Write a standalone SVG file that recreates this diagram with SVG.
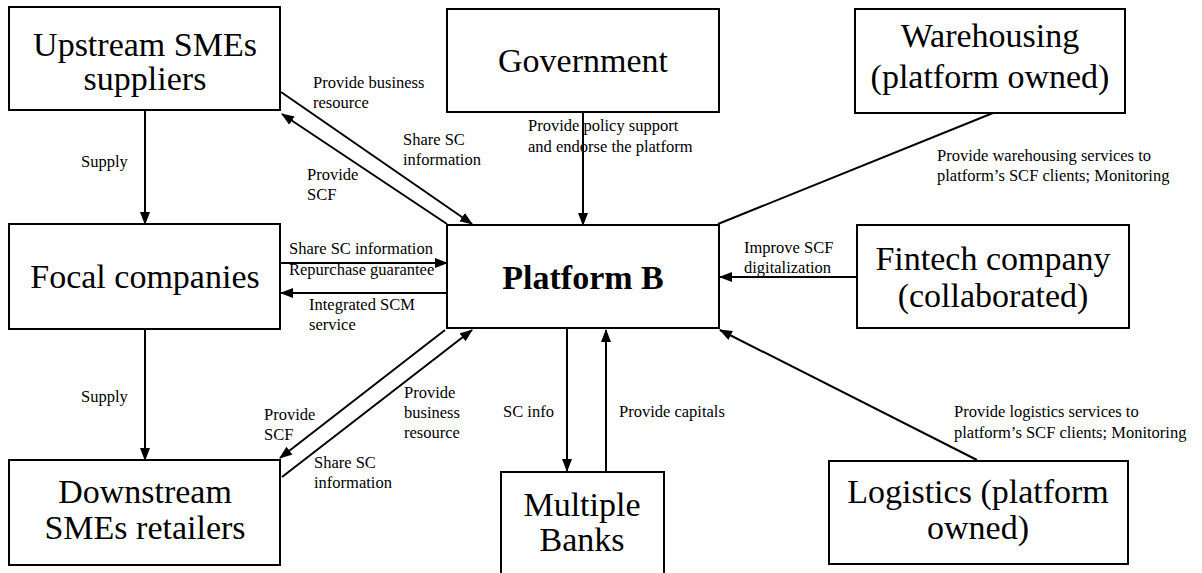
<svg xmlns="http://www.w3.org/2000/svg" width="1202" height="573" viewBox="0 0 1202 573">
<style>
.box{fill:#fff;stroke:#000;stroke-width:2}
.nt{font-family:"Liberation Serif","Times New Roman",serif;font-size:34px;fill:#000;text-anchor:middle}
.bold{font-weight:bold}
.lb{font-family:"Liberation Serif","Times New Roman",serif;font-size:16.5px;fill:#000}
.cn{stroke:#000;stroke-width:2;fill:none}
.ar{marker-end:url(#ah)}
</style>
<defs>
<marker id="ah" markerUnits="userSpaceOnUse" markerWidth="14" markerHeight="12" refX="12" refY="5" orient="auto">
<path d="M0,0 L13,5 L0,10 z" fill="#000"/>
</marker>
</defs>
<rect width="1202" height="573" fill="#fff"/>
<g id="connectors">
<line class="cn ar" x1="145" y1="110" x2="145" y2="224"/>
<line class="cn ar" x1="145" y1="329" x2="145" y2="460"/>
<line class="cn ar" x1="281" y1="92" x2="472" y2="224"/>
<line class="cn ar" x1="447" y1="224" x2="282" y2="114"/>
<line class="cn ar" x1="281" y1="263" x2="447" y2="263"/>
<line class="cn ar" x1="447" y1="293" x2="281" y2="293"/>
<line class="cn ar" x1="445" y1="330" x2="280" y2="458"/>
<line class="cn ar" x1="282" y1="477" x2="472" y2="330"/>
<line class="cn ar" x1="583" y1="112" x2="583" y2="225"/>
<line class="cn" x1="718" y1="224" x2="993" y2="113"/>
<line class="cn ar" x1="857" y1="277" x2="720" y2="277"/>
<line class="cn ar" x1="567" y1="329" x2="567" y2="471"/>
<line class="cn ar" x1="606" y1="471" x2="606" y2="330"/>
<line class="cn ar" x1="977" y1="460" x2="720" y2="330"/>
<text class="lb" x="81" y="167">Supply</text>
<text class="lb" x="81" y="402">Supply</text>
<text class="lb" x="313" y="88">Provide business</text>
<text class="lb" x="313" y="108">resource</text>
<text class="lb" x="403" y="145">Share SC</text>
<text class="lb" x="403" y="165">information</text>
<text class="lb" x="307" y="180">Provide</text>
<text class="lb" x="307" y="200">SCF</text>
<text class="lb" x="289" y="254">Share SC information</text>
<text class="lb" x="289" y="275">Repurchase guarantee</text>
<text class="lb" x="309" y="310">Integrated  SCM</text>
<text class="lb" x="309" y="330">service</text>
<text class="lb" x="264" y="420">Provide</text>
<text class="lb" x="264" y="440">SCF</text>
<text class="lb" x="404" y="398">Provide</text>
<text class="lb" x="404" y="418">business</text>
<text class="lb" x="404" y="438">resource</text>
<text class="lb" x="314" y="468">Share SC</text>
<text class="lb" x="314" y="488">information</text>
<text class="lb" x="528" y="131">Provide policy support</text>
<text class="lb" x="528" y="152">and endorse the platform</text>
<text class="lb" x="937" y="161">Provide warehousing  services to</text>
<text class="lb" x="937" y="181">platform’s SCF clients;  Monitoring</text>
<text class="lb" x="744" y="253">Improve SCF</text>
<text class="lb" x="744" y="273">digitalization</text>
<text class="lb" x="503" y="417">SC info</text>
<text class="lb" x="619" y="417">Provide capitals</text>
<text class="lb" x="954" y="417">Provide logistics  services to</text>
<text class="lb" x="954" y="438">platform’s SCF clients;  Monitoring</text>
</g>
<g id="upstream">
<rect class="box" x="9" y="7" width="271" height="103"/>
<text class="nt" x="145" y="56">Upstream SMEs</text>
<text class="nt" x="145" y="90">suppliers</text>
</g>
<g id="government">
<rect class="box" x="447" y="9" width="272" height="103"/>
<text class="nt" x="583" y="72">Government</text>
</g>
<g id="warehousing">
<rect class="box" x="855" y="9" width="270" height="104"/>
<text class="nt" x="990" y="47">Warehousing</text>
<text class="nt" x="990" y="88">(platform owned)</text>
</g>
<g id="focal">
<rect class="box" x="9" y="224" width="271" height="105"/>
<text class="nt" x="145" y="288">Focal companies</text>
</g>
<g id="platform">
<rect class="box" x="447" y="225" width="272" height="103"/>
<text class="nt bold" x="583" y="289">Platform B</text>
</g>
<g id="fintech">
<rect class="box" x="857" y="225" width="272" height="103"/>
<text class="nt" x="993" y="270">Fintech company</text>
<text class="nt" x="993" y="307">(collaborated)</text>
</g>
<g id="downstream">
<rect class="box" x="9" y="460" width="271" height="105"/>
<text class="nt" x="145" y="503">Downstream</text>
<text class="nt" x="145" y="539">SMEs retailers</text>
</g>
<g id="banks">
<rect class="box" x="501" y="472" width="163" height="110"/>
<text class="nt" x="582" y="516">Multiple</text>
<text class="nt" x="582" y="551">Banks</text>
</g>
<g id="logistics">
<rect class="box" x="829" y="461" width="299" height="103"/>
<text class="nt" x="978" y="503">Logistics (platform</text>
<text class="nt" x="978" y="539">owned)</text>
</g>
</svg>
